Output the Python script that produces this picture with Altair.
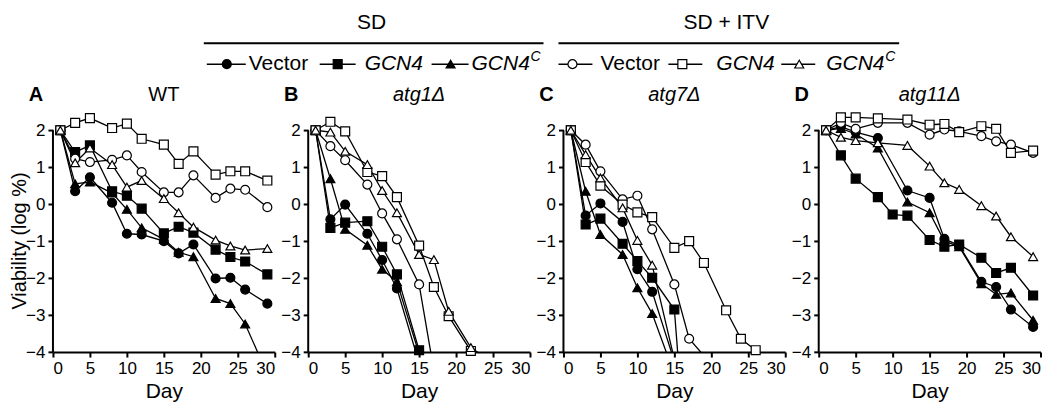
import altair as alt
import pandas as pd

FONT = "Liberation Sans"

# ---------------- data ----------------
DAYS = [1, 3, 5, 8, 10, 12, 15, 17, 19, 22, 24, 26, 29]
DAYS_D = [1, 3, 5, 8, 12, 15, 17, 19, 22, 24, 26, 29]

SERIES = ["SD Vector", "SD GCN4", "SD GCN4C", "ITV Vector", "ITV GCN4", "ITV GCN4C"]
SHAPES = ["circle", "square", "triangle-up", "circle", "square", "triangle-up"]
FILLS = ["black", "black", "black", "white", "white", "white"]

X_TICKS = [0, 5, 10, 15, 20, 25, 30]
Y_TICKS = [-4, -3, -2, -1, 0, 1, 2]

# Panel A: WT
WT_SD_VECTOR = [2, 0.35, 0.73, 0.04, -0.8, -0.82, -1.0, -1.33, -1.09, -2.01, -1.99, -2.31, -2.69]
WT_SD_GCN4 = [2, 1.41, 1.59, 0.35, 0.23, -0.12, -0.79, -0.61, -0.77, -1.23, -1.43, -1.55, -1.9]
WT_SD_GCN4C = [2, 0.55, 0.6, 0.3, -0.14, -0.64, -0.95, -1.3, -1.42, -2.55, -2.69, -3.24, -4.6]
WT_ITV_VECTOR = [2, 1.23, 1.14, 1.2, 1.32, 0.87, 0.32, 0.32, 0.78, 0.17, 0.42, 0.39, -0.08]
WT_ITV_GCN4 = [2, 2.2, 2.33, 2.06, 2.18, 1.77, 1.61, 1.09, 1.43, 0.8, 0.89, 0.89, 0.64]
WT_ITV_GCN4C = [2, 1.12, 1.52, 1.07, 0.46, 0.64, 0.15, -0.23, -0.62, -0.97, -1.13, -1.24, -1.2]

# Panel B: atg1
B_SD_VECTOR = [2, -0.41, -0.01, -0.8, -1.51, -2.28, -4.3]
B_SD_GCN4 = [2, -0.64, -0.5, -0.46, -1.15, -1.9, -3.95]
B_SD_GCN4C = [2, 0.69, -0.68, -1.11, -1.76, -2.1, -4.05]
B_ITV_VECTOR = [2, 1.57, 1.19, 0.53, -0.25, -0.95, -2.17, -4.5]
B_ITV_GCN4 = [2, 2.23, 1.97, 0.87, 0.76, 0.19, -1.12, -2.24, -3.03, -3.97, -4.2]
B_ITV_GCN4C = [2, 1.95, 1.43, 1.07, 0.37, -0.23, -1.36, -1.5, -2.9, -3.88, -4.15]

# Panel C: atg7
C_SD_VECTOR = [2, -0.31, 0.02, -0.48, -1.76, -2.37, -4.25]
C_SD_GCN4 = [2, -0.55, -0.39, -1.07, -1.54, -1.99, -2.85, -8.0]
C_SD_GCN4C = [2, 0.35, -0.82, -1.36, -2.26, -2.96, -4.6]
C_ITV_VECTOR = [2, 1.61, 0.89, 0.13, 0.23, -0.68, -2.17, -3.64, -4.1]
C_ITV_GCN4 = [2, 1.14, 0.5, -0.01, -0.22, -0.35, -1.18, -1.0, -1.59, -2.87, -3.64, -3.95]
C_ITV_GCN4C = [2, 1.34, 0.71, -0.1, -0.98, -1.65, -4.2]

# Panel D: atg11
D_SD_VECTOR = [2, 2.1, 1.95, 1.79, 0.37, 0.17, -0.94, -1.12, -2.1, -2.24, -2.85, -3.32]
D_SD_GCN4 = [2, 1.32, 0.69, 0.19, -0.28, -0.31, -0.97, -1.15, -1.09, -1.45, -1.86, -1.72, -2.47]
D_SD_GCN4C = [2, 2.05, 1.9, 1.52, 0.06, -0.23, -1.0, -1.15, -2.15, -2.44, -2.4, -3.14]
D_ITV_VECTOR = [2, 2.2, 2.04, 2.2, 2.2, 1.88, 2.02, 1.97, 1.84, 1.7, 1.61, 1.39]
D_ITV_GCN4 = [2, 2.35, 2.35, 2.32, 2.29, 2.15, 2.17, 1.95, 2.11, 2.04, 1.39, 1.45]
D_ITV_GCN4C = [2, 1.81, 1.72, 1.66, 1.59, 1.03, 0.58, 0.4, -0.04, -0.32, -0.88, -1.42]

PANELS = [
    ("A", "WT", False, [WT_SD_VECTOR, WT_SD_GCN4, WT_SD_GCN4C, WT_ITV_VECTOR, WT_ITV_GCN4, WT_ITV_GCN4C],
     [DAYS] * 6),
    ("B", "atg1Δ", True, [B_SD_VECTOR, B_SD_GCN4, B_SD_GCN4C, B_ITV_VECTOR, B_ITV_GCN4, B_ITV_GCN4C],
     [DAYS] * 6),
    ("C", "atg7Δ", True, [C_SD_VECTOR, C_SD_GCN4, C_SD_GCN4C, C_ITV_VECTOR, C_ITV_GCN4, C_ITV_GCN4C],
     [DAYS] * 6),
    ("D", "atg11Δ", True, [D_SD_VECTOR, D_SD_GCN4, D_SD_GCN4C, D_ITV_VECTOR, D_ITV_GCN4, D_ITV_GCN4C],
     [DAYS_D, DAYS, DAYS_D, DAYS_D, DAYS_D, DAYS_D]),
]

# ---------------- layout ----------------
W = 222
H = 244.2
Y_DOMAIN = [-4, 2.6]
MARK_SIZE = 80
ONE = alt.Data(values=[{"k": 0}])

y_scale = alt.Scale(domain=Y_DOMAIN, nice=False, zero=False)
x_scale = alt.Scale(domain=[0, 30], nice=False, zero=False)


def vtext(txt, x, y, size=21, italic=False, align="left", weight="normal", angle=0):
    kw = dict(text=txt, fontSize=size, font=FONT, align=align, baseline="middle",
              color="black", fontWeight=weight)
    if italic:
        kw["fontStyle"] = "italic"
    if angle:
        kw["angle"] = angle
    return alt.Chart(ONE).mark_text(**kw).encode(x=alt.value(x), y=alt.value(y))


def vrule(x1, x2, y, w=1.5):
    return alt.Chart(ONE).mark_rule(color="black", strokeWidth=w).encode(
        x=alt.value(x1), x2=alt.value(x2), y=alt.value(y))


def vpoint(x, y, shape, fill):
    return alt.Chart(ONE).mark_point(shape=shape, filled=True, fill=fill, stroke="black",
                                     size=MARK_SIZE, strokeWidth=1.2, opacity=1).encode(
        x=alt.value(x), y=alt.value(y))


def legend_layers():
    layers = []
    layers.append(vtext("SD", 319, -85, align="center"))
    layers.append(vtext("SD + ITV", 674, -85, align="center"))
    layers.append(vrule(151, 491, -65, 2))
    layers.append(vrule(506, 847, -65, 2))
    ry = -44
    items = [
        (154, 193, 174, 0, 196, "Vector", False),
        (267, 303, 285, 1, 312, "GCN4", True),
        (379, 416, 398, 2, 419, "GCN4", True),
        (506, 540, 520, 3, 548, "Vector", False),
        (616, 650, 630, 4, 664, "GCN4", True),
        (729, 763, 747, 5, 774, "GCN4", True),
    ]
    for x1, x2, mx, si, tx, label, ital in items:
        layers.append(vrule(x1, x2, ry, 1.5))
        layers.append(vpoint(mx, ry, SHAPES[si], FILLS[si]))
        layers.append(vtext(label, tx, ry, italic=ital))
        if si in (2, 5):
            layers.append(vtext("C", tx + 59, ry - 7, size=14, italic=True))
    return layers


def make_panel(i, letter, title, italic, values, days):
    rows = []
    for s, d, v in zip(SERIES, days, values):
        for dd, vv in zip(d, v):
            rows.append({"day": dd, "value": vv, "series": s})
    df = pd.DataFrame(rows)

    x_axis = alt.Axis(values=X_TICKS, title="Day", format="d")
    y_axis = alt.Axis(values=Y_TICKS, domain=False, title=None, format="d")

    base = alt.Chart(df)
    lines = base.mark_line(clip=True, color="black", strokeWidth=1.3).encode(
        x=alt.X("day:Q", scale=x_scale, axis=x_axis),
        y=alt.Y("value:Q", scale=y_scale, axis=y_axis),
        detail="series:N",
        order="day:Q",
    )
    points = base.transform_filter("datum.value >= -4").mark_point(
        filled=True, size=MARK_SIZE, stroke="black", strokeWidth=1.2, opacity=1
    ).encode(
        x=alt.X("day:Q", scale=x_scale, axis=x_axis),
        y=alt.Y("value:Q", scale=y_scale, axis=y_axis),
        shape=alt.Shape("series:N", scale=alt.Scale(domain=SERIES, range=SHAPES), legend=None),
        fill=alt.Fill("series:N", scale=alt.Scale(domain=SERIES, range=FILLS), legend=None),
    )
    yrule = alt.Chart(alt.Data(values=[{"lo": min(Y_TICKS), "hi": max(Y_TICKS)}])).mark_rule(
        color="black", strokeWidth=2).encode(
        x=alt.value(0),
        y=alt.Y("lo:Q", scale=y_scale, axis=y_axis),
        y2="hi:Q",
    )
    layers = [yrule, lines, points,
              vtext(letter, -17, -13, size=20, align="center", weight="bold"),
              vtext(title, W / 2, -13, size=20, align="center", italic=italic)]
    if i == 0:
        layers.append(vtext("Viability (log %)", -33, 133, size=20, align="center", angle=270))
        layers += legend_layers()
    return alt.layer(*layers).properties(width=W, height=H)


panels = [make_panel(i, *p) for i, p in enumerate(PANELS)]

chart = alt.hconcat(*panels, spacing=33.5, bounds="flush").properties(
    padding={"left": 2, "top": 4, "right": 0, "bottom": 3}
).configure_view(stroke=None).configure_axis(
    labelFont=FONT, titleFont=FONT, labelFontSize=17, titleFontSize=21,
    labelColor="black", titleColor="black", domainColor="black", tickColor="black",
    domainWidth=2, tickWidth=2, tickSize=5, grid=False, labelPadding=3,
    titleFontWeight="normal", titlePadding=4,
)

chart.save("out.html", embed_options={"renderer": "svg", "actions": False})
